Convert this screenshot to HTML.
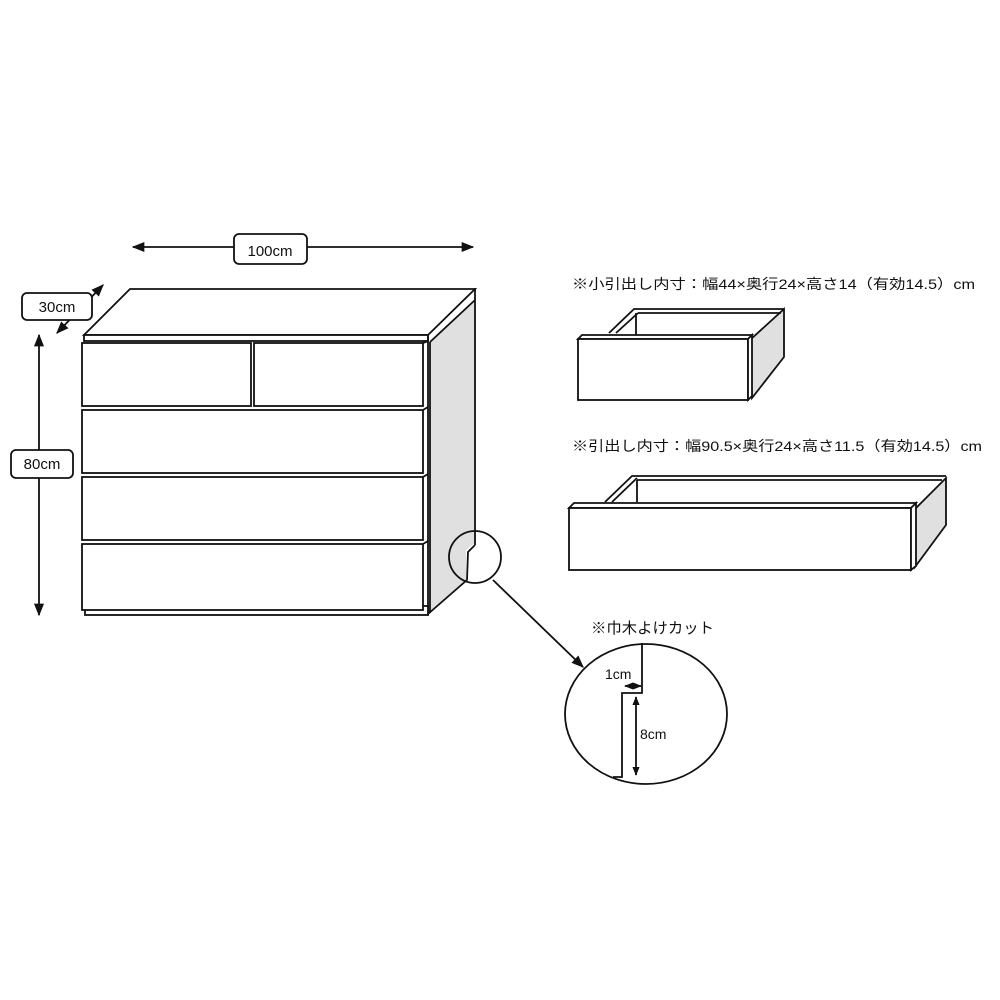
<!DOCTYPE html>
<html><head><meta charset="utf-8"><style>
html,body{margin:0;padding:0;background:#fff;}
svg{display:block}
text{font-family:"Liberation Sans","Noto Sans CJK JP",sans-serif;fill:#111}
</style></head><body>
<svg width="1000" height="1000" viewBox="0 0 1000 1000" xmlns="http://www.w3.org/2000/svg">
<defs>
<marker id="ah" viewBox="0 0 10 10" refX="9" refY="5" markerWidth="7" markerHeight="7" orient="auto-start-reverse"><path d="M0,1 L10,5 L0,9 z" fill="#111"/></marker>
<marker id="as" viewBox="0 0 10 10" refX="9" refY="5" markerWidth="5" markerHeight="5" orient="auto-start-reverse"><path d="M0,1 L10,5 L0,9 z" fill="#111"/></marker>
</defs>
<g stroke="#111" stroke-width="1.8" fill="#fff">
<polygon points="430,342 475,300 475,543 466,550 466,580 430,613" fill="#e0e0e0" stroke="none"/>
<line x1="475" y1="288" x2="475" y2="545"/>
<polyline points="475,545 468,552 467,580 428,614" fill="none"/>
<polygon points="84,335 130,289 475,289 428,335"/>
<line x1="475" y1="300" x2="430" y2="342"/>
<rect x="84" y="335" width="344" height="6"/>
<line x1="428" y1="335" x2="428" y2="615"/>
<line x1="430" y1="342" x2="430" y2="613"/>
<rect x="85" y="606" width="343" height="9"/>
<rect x="82" y="343" width="169" height="63"/>
<rect x="254" y="343" width="169" height="63"/>
<rect x="82" y="410" width="341" height="63"/>
<rect x="82" y="477" width="341" height="63"/>
<rect x="82" y="544" width="341" height="66"/>
<line x1="423" y1="343" x2="428" y2="341"/>
<line x1="423" y1="410" x2="428" y2="407"/>
<line x1="423" y1="477" x2="428" y2="474"/>
<line x1="423" y1="544" x2="428" y2="541"/>
<circle cx="475" cy="557" r="26" fill="none"/>
<line x1="133" y1="247" x2="473" y2="247" marker-start="url(#ah)" marker-end="url(#ah)"/>
<line x1="39" y1="335" x2="39" y2="615" marker-start="url(#ah)" marker-end="url(#ah)"/>
<line x1="57" y1="333" x2="103" y2="285" marker-start="url(#ah)" marker-end="url(#ah)"/>
<rect x="234" y="234" width="73" height="30" rx="5"/>
<rect x="22" y="293" width="70" height="27" rx="5"/>
<rect x="11" y="450" width="62" height="28" rx="5"/>
<polygon points="750,340 784,309 784,357 752,398" fill="#e0e0e0"/>
<polyline points="609,333 634,309 784,309" fill="none"/>
<line x1="616" y1="333" x2="638" y2="313"/>
<line x1="638" y1="313" x2="781" y2="313"/>
<line x1="636" y1="313" x2="636" y2="335"/>
<polygon points="578,339 582,335 752,335 748,339"/>
<rect x="578" y="339" width="170" height="61"/>
<polygon points="748,339 752,335 752,396 748,400"/>
<polygon points="914,510 946,478 946,525 915,567" fill="#e0e0e0"/>
<polyline points="605,502 632,476 946,476" fill="none"/>
<line x1="612" y1="502" x2="637" y2="478"/>
<line x1="637" y1="480" x2="942" y2="480"/>
<line x1="637" y1="480" x2="637" y2="502"/>
<polygon points="569,508 574,503 916,503 911,508"/>
<rect x="569" y="508" width="342" height="62"/>
<polygon points="911,508 916,503 916,566 911,570"/>
<line x1="493" y1="580" x2="583" y2="667" marker-end="url(#ah)"/>
<ellipse cx="646" cy="714" rx="81" ry="70" fill="none"/>
<polyline points="642,643 642,693 622,693 622,777 613,777" fill="none"/>
<line x1="625" y1="686" x2="641" y2="686" marker-start="url(#as)" marker-end="url(#as)"/>
<line x1="636" y1="697" x2="636" y2="775" marker-start="url(#as)" marker-end="url(#as)"/>
</g>
<text x="270" y="256" font-size="15" text-anchor="middle">100cm</text>
<text x="57" y="312" font-size="15" text-anchor="middle">30cm</text>
<text x="42" y="469" font-size="15" text-anchor="middle">80cm</text>
<text x="572" y="289" font-size="14" textLength="403" lengthAdjust="spacingAndGlyphs">※小引出し内寸：幅44×奥行24×高さ14（有効14.5）cm</text>
<text x="572" y="451" font-size="14" textLength="410" lengthAdjust="spacingAndGlyphs">※引出し内寸：幅90.5×奥行24×高さ11.5（有効14.5）cm</text>
<text x="591" y="633" font-size="15" textLength="123" lengthAdjust="spacingAndGlyphs">※巾木よけカット</text>
<text x="605" y="679" font-size="14">1cm</text>
<text x="640" y="739" font-size="14">8cm</text>
</svg>
</body></html>
